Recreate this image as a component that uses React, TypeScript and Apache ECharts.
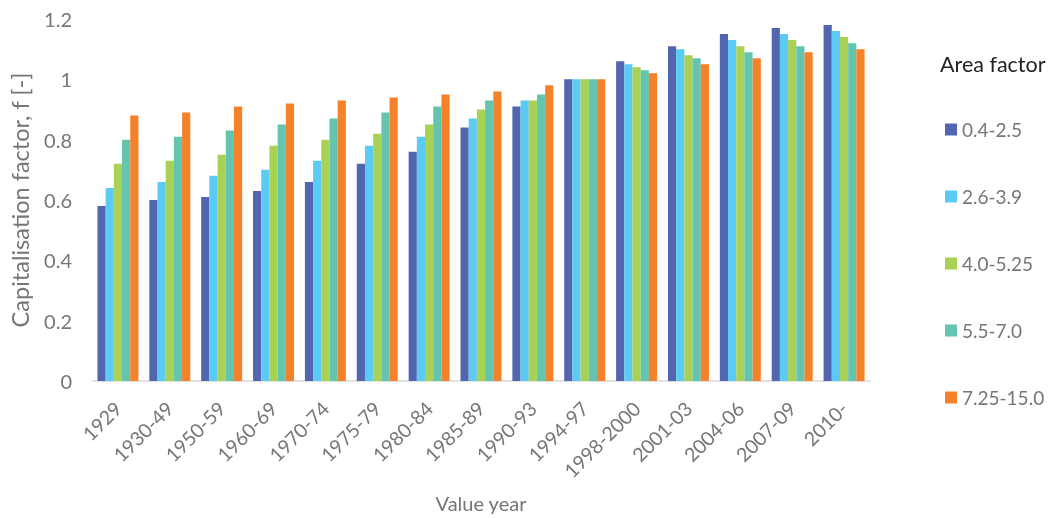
import React, { useEffect, useRef } from "react";
import * as echarts from "echarts";

const categories = ["1929", "1930-49", "1950-59", "1960-69", "1970-74", "1975-79", "1980-84", "1985-89", "1990-93", "1994-97", "1998-2000", "2001-03", "2004-06", "2007-09", "2010-"];
const seriesNames = ["0.4-2.5", "2.6-3.9", "4.0-5.25", "5.5-7.0", "7.25-15.0"];
const s1 = [0.58, 0.60, 0.61, 0.63, 0.66, 0.72, 0.76, 0.84, 0.91, 1.0, 1.06, 1.11, 1.15, 1.17, 1.18];
const s2 = [0.64, 0.66, 0.68, 0.70, 0.73, 0.78, 0.81, 0.87, 0.93, 1.0, 1.05, 1.10, 1.13, 1.15, 1.16];
const s3 = [0.72, 0.73, 0.75, 0.78, 0.80, 0.82, 0.85, 0.90, 0.93, 1.0, 1.04, 1.08, 1.11, 1.13, 1.14];
const s4 = [0.80, 0.81, 0.83, 0.85, 0.87, 0.89, 0.91, 0.93, 0.95, 1.0, 1.03, 1.07, 1.09, 1.11, 1.12];
const s5 = [0.88, 0.89, 0.91, 0.92, 0.93, 0.94, 0.95, 0.96, 0.98, 1.0, 1.02, 1.05, 1.07, 1.09, 1.10];
const yTicks = [0, 0.2, 0.4, 0.6, 0.8, 1, 1.2];
const colors = ["#5266B0", "#5BCBF5", "#A9D155", "#63C5AE", "#F5822A"];

const FONT = "Lato, 'Open Sans', sans-serif";
const GREY = "#767676";

export default function App() {
  const ref = useRef<HTMLDivElement>(null);
  useEffect(() => {
    if (!ref.current) return;
    const chart = echarts.init(ref.current, null, { renderer: "svg" });
    const data = [s1, s2, s3, s4, s5];
    chart.setOption({
      animation: false,
      textStyle: { fontFamily: FONT },
      grid: { left: 90, right: 178, top: 19, bottom: 133, containLabel: false },
      title: {
        text: "Area factor",
        left: 940,
        top: 53,
        padding: 0,
        textStyle: { fontFamily: FONT, fontSize: 21.5, fontWeight: "normal", color: "#222" },
      },
      legend: {
        orient: "vertical",
        left: 945,
        top: 120,
        padding: 0,
        itemWidth: 12,
        itemHeight: 12,
        itemGap: 48,
        icon: "rect",
        data: seriesNames,
        textStyle: { fontFamily: FONT, fontSize: 19, color: GREY, lineHeight: 14 },
      },
      xAxis: {
        type: "category",
        data: categories,
        name: "Value year",
        nameLocation: "middle",
        nameGap: 112,
        nameTextStyle: { fontFamily: FONT, fontSize: 20, color: GREY },
        axisLine: { lineStyle: { color: "#d9d9d9", width: 1.5 } },
        axisTick: { show: false },
        axisLabel: {
          rotate: 45,
          fontSize: 19.5,
          color: GREY,
          margin: 24,
          interval: 0,
          fontFamily: FONT,
          padding: [0, 0, 0, 0],
        },
      },
      yAxis: {
        type: "value",
        min: 0,
        max: 1.2,
        interval: 0.2,
        name: "Capitalisation factor, f [-]",
        nameLocation: "middle",
        nameGap: 60,
        nameTextStyle: { fontFamily: FONT, fontSize: 23.5, color: GREY },
        splitLine: { show: false },
        axisLine: { show: false },
        axisTick: { show: false },
        axisLabel: {
          fontSize: 20,
          color: GREY,
          margin: 20,
          fontFamily: FONT,
          formatter: (v: number) => {
            const t = yTicks.find((x) => Math.abs(x - v) < 1e-6);
            return t === undefined ? "" : String(t);
          },
        },
      },
      series: data.map((d, i) => ({
        name: seriesNames[i],
        type: "bar",
        data: d,
        itemStyle: { color: colors[i] },
        barGap: "0%",
        barCategoryGap: "21%",
      })),
    });
    return () => chart.dispose();
  }, []);
  return (
    <div
      ref={ref}
      style={{ position: "fixed", left: 0, top: 0, width: 1048, height: 518, overflow: "hidden" }}
    />
  );
}
